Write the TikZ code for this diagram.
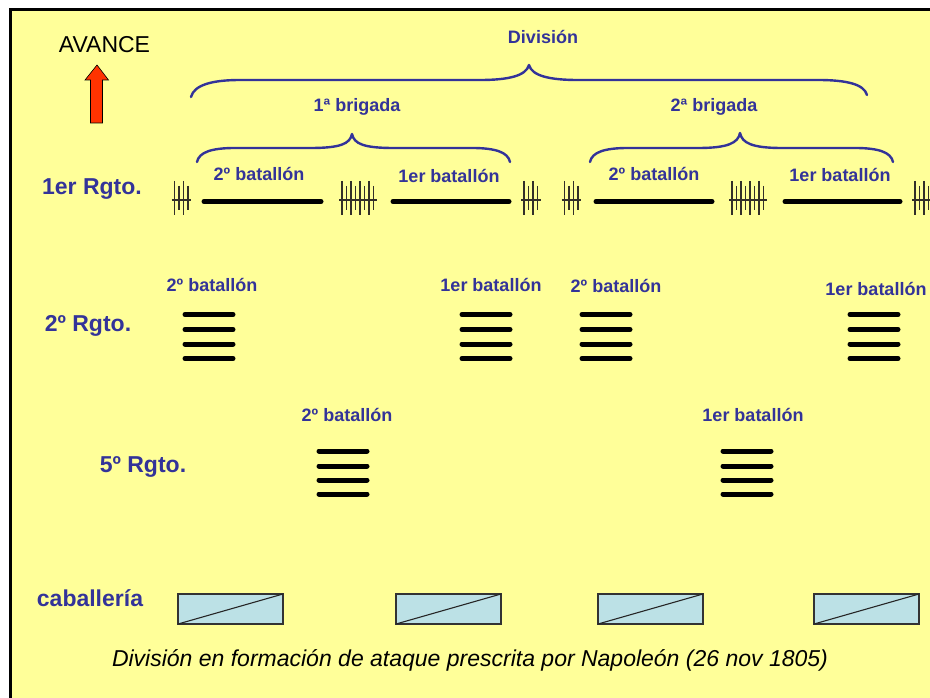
\documentclass[tikz,border=0pt]{standalone}
\usepackage{fontspec}
\setmainfont{Liberation Sans}
\definecolor{bg}{HTML}{FFFF99}
\definecolor{lblue}{HTML}{333399}
\definecolor{cav}{HTML}{BCE1E6}
\definecolor{arrowred}{HTML}{FF3300}
\newcommand\skirmish[2]{%
  \draw[skline] (#1-3,200) -- ({#1+4.5*(#2-1)+3},200);
  \foreach \i in {1,...,#2} {%
    \pgfmathsetmacro\xx{#1+4.5*(\i-1)}%
    \ifodd\i \draw[skline] (\xx,181) -- (\xx,215);
    \else \draw[skline] (\xx,186) -- (\xx,210); \fi
  }%
}
\begin{document}
\begin{tikzpicture}[x=1pt,y=-1pt,
  lbl/.style={font=\fontsize{18}{20}\selectfont\bfseries, text=lblue, anchor=base, inner sep=0pt},
  rgto/.style={font=\fontsize{23}{25}\selectfont\bfseries, text=lblue, anchor=base, inner sep=0pt},
  brace/.style={draw=lblue, line width=2.4pt, line cap=round, line join=round},
  bat/.style={line width=5pt, line cap=round},
  skline/.style={line width=1.3pt, draw=black!85!olive},
  cavbox/.style={draw=black!80, fill=cav, line width=1.2pt}]
\useasboundingbox (0,0) rectangle (930,698);
\fill[white] (0,0) rectangle (930,698);
\clip (0,0) rectangle (930,698);
\draw[fill=bg, line width=3pt] (10.5,9.5) rectangle (960,730);

% advance arrow
\node[anchor=base, inner sep=0pt, font=\fontsize{23}{25}\selectfont] (avance) at (104.5,53) {AVANCE};
\draw[fill=arrowred, line width=0.6pt] (97,65) -- (108.5,80) -- (102.5,80) -- (102.5,123) -- (90.5,123) -- (90.5,80) -- (85,80) -- cycle;

% braces
\node[lbl] (division) at (543,43.5) {División};
\draw[brace] (191,97) .. controls (194,85) and (212,80) .. (240,80) -- (480,80)
  .. controls (508,80) and (526,76) .. (529,65)
  .. controls (532,76) and (550,80) .. (578,80) -- (818,80)
  .. controls (846,80) and (864,84) .. (867,95);
\node[lbl] (brig1) at (357,112) {1ª brigada};
\node[lbl] (brig2) at (714,112) {2ª brigada};
\draw[brace] (197,162) .. controls (199,152) and (212,148) .. (235,148) -- (310,148)
  .. controls (340,148) and (350,144) .. (352,134)
  .. controls (354,144) and (364,148) .. (394,148) -- (472,148)
  .. controls (495,148) and (508,152) .. (510,162);
\draw[brace] (590,162) .. controls (592,152) and (605,148) .. (628,148) -- (698,148)
  .. controls (728,148) and (738,143) .. (740,133)
  .. controls (742,143) and (752,148) .. (782,148) -- (855,148)
  .. controls (878,148) and (891,152) .. (893,162);

% 1er Rgto
\node[rgto] (r1) at (92,195) {1er Rgto.};
\node[lbl] (r1b2a) at (259,181) {2º batallón};
\node[lbl] (r1b1a) at (449,183) {1er batallón};
\node[lbl] (r1b2b) at (654,181) {2º batallón};
\node[lbl] (r1b1b) at (840,182) {1er batallón};
\draw[bat] (204,201.5) -- (321,201.5);
\draw[bat] (393,201.5) -- (509,201.5);
\draw[bat] (596,201.5) -- (712,201.5);
\draw[bat] (785,201.5) -- (900,201.5);
\skirmish{174.5}{4}
\skirmish{342}{8}
\skirmish{524}{4}
\skirmish{564.5}{4}
\skirmish{732}{8}
\skirmish{915}{4}

% 2º Rgto
\node[rgto] (r2) at (88,331) {2º Rgto.};
\node[lbl] (r2b2a) at (212,291) {2º batallón};
\node[lbl] (r2b1a) at (491,291.5) {1er batallón};
\node[lbl] (r2b2b) at (616,292.5) {2º batallón};
\node[lbl] (r2b1b) at (876,295.5) {1er batallón};
\foreach \x in {185,462,582,850} {
  \foreach \y in {314.5,329.5,344,358.5} {
    \draw[bat] (\x,\y) -- (\x+48,\y);
  }
}

% 5º Rgto
\node[rgto] (r5) at (143,472) {5º Rgto.};
\node[lbl] (r5b2) at (347,421.5) {2º batallón};
\node[lbl] (r5b1) at (753,421.5) {1er batallón};
\foreach \x in {319,723} {
  \foreach \y in {451,466,480,494} {
    \draw[bat] (\x,\y) -- (\x+48,\y);
  }
}

% caballeria
\node[rgto] (cab) at (90,606) {caballería};
\foreach \x in {178,396,598,814} {
  \draw[cavbox] (\x,594) rectangle (\x+105,624);
  \draw[line width=1.1pt, black!85] (\x,624) -- (\x+105,594);
}

\node[anchor=base, inner sep=0pt, font=\fontsize{23}{25}\selectfont\itshape] (caption) at (470,666)
  {División en formación de ataque prescrita por Napoleón (26 nov 1805)};
\end{tikzpicture}
\end{document}
